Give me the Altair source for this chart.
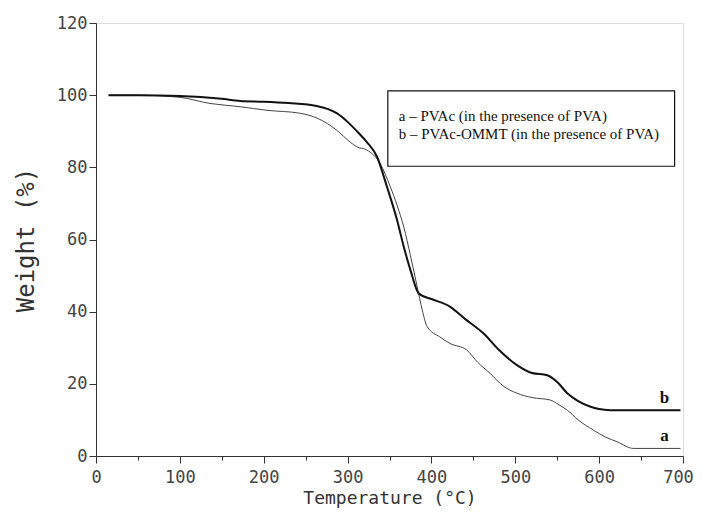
import altair as alt
import pandas as pd

# Curve a: PVAc (thin)
temp_a = [15, 50, 100, 136, 172, 204, 243, 265, 287, 303, 311, 323, 339, 351, 359, 367, 375, 383,
          389, 395, 410, 422, 442, 455, 470, 485, 502, 520, 542, 552, 562, 575, 593, 608, 621, 641, 697]
weight_a = [100, 100, 99.4, 97.7, 96.8, 95.8, 95, 93.5, 90.3, 87, 85.7, 84.8, 81, 74.6, 69.5, 63.5, 55.5, 46.9,
            40.5, 35.8, 33, 31.2, 29.4, 26, 22.9, 19.5, 17.4, 16.2, 15.5, 14.2, 12.7, 10, 7.2, 5.2, 4, 2.1, 2.1]

# Curve b: PVAc-OMMT (thick)
temp_b = [15, 50, 100, 150, 172, 200, 230, 263, 287, 300, 312, 323, 335, 347, 359, 367, 375, 385,
          400, 422, 440, 462, 480, 502, 520, 538, 550, 562, 575, 589, 600, 613, 650, 697]
weight_b = [100, 100, 99.8, 99, 98.4, 98.2, 97.8, 97, 95, 92.6, 89.8, 87, 83, 74.6, 65.4, 58, 51.5, 45,
            43.5, 41.4, 38, 34, 29.5, 25.2, 23, 22.4, 20.5, 17.4, 15.2, 13.7, 13, 12.7, 12.7, 12.7]

legend_lines = ["a \u2013 PVAc (in the presence of PVA)",
                "b \u2013 PVAc-OMMT (in the presence of PVA)"]
curve_labels = ["a", "b"]
curve_label_t = [678, 678]
curve_label_w = [5.5, 16.2]

df_a = pd.DataFrame({"T": temp_a, "W": weight_a, "s": "a"})
df_b = pd.DataFrame({"T": temp_b, "W": weight_b, "s": "b"})

mono = "DejaVu Sans Mono"
xscale = alt.Scale(domain=[0, 700], nice=False, zero=False)
yscale = alt.Scale(domain=[0, 120], nice=False)

xaxis = alt.Axis(title="Temperature (\u00b0C)", values=list(range(0, 701, 50)),
                 labelExpr="datum.value % 100 === 0 ? datum.label : ''",
                 tickSize={"condition": {"test": "datum.value % 100 === 0", "value": 7}, "value": 4},
                 labelOffset={"condition": {"test": "datum.value === 700", "value": -5}, "value": 0},
                 grid=False, labelFont=mono, labelFontSize=17, labelColor="#444",
                 titleFont=mono, titleFontSize=18, titleFontWeight="normal", titleColor="#333",
                 titlePadding=4, labelPadding=6, domainColor="#333", tickColor="#333",
                 labelFlush=False)
yaxis = alt.Axis(title="Weight (%)", values=list(range(0, 121, 10)),
                 labelExpr="datum.value % 20 === 0 ? datum.label : ''",
                 tickSize={"condition": {"test": "datum.value % 20 === 0", "value": 7}, "value": 4},
                 grid=False, labelFont=mono, labelFontSize=17, labelColor="#444",
                 titleFont=mono, titleFontSize=24, titleFontWeight="normal", titleColor="#333",
                 titlePadding=18, labelPadding=2, domainColor="#333", tickColor="#333",
                 labelFlush=False)

line_a = alt.Chart(df_a).mark_line(color="#444", strokeWidth=1, interpolate="monotone").encode(
    x=alt.X("T:Q", scale=xscale, axis=xaxis),
    y=alt.Y("W:Q", scale=yscale, axis=yaxis),
)
line_b = alt.Chart(df_b).mark_line(color="#111", strokeWidth=2, interpolate="monotone").encode(
    x=alt.X("T:Q", scale=xscale),
    y=alt.Y("W:Q", scale=yscale),
)

lab_df = pd.DataFrame({"t": curve_label_t, "w": curve_label_w, "l": curve_labels})
labels = alt.Chart(lab_df).mark_text(font="Liberation Serif", fontSize=17, fontWeight="bold",
                                     align="center", baseline="middle", color="#111").encode(
    x=alt.X("t:Q", scale=xscale), y=alt.Y("w:Q", scale=yscale), text="l:N")

box_df = pd.DataFrame({"x1": [348], "x2": [690], "y1": [80.3], "y2": [101.2]})
box = alt.Chart(box_df).mark_rect(fill="white", stroke="#111", strokeWidth=1.2).encode(
    x=alt.X("x1:Q", scale=xscale), x2="x2:Q",
    y=alt.Y("y1:Q", scale=yscale), y2="y2:Q")

leg_df = pd.DataFrame({"x": [361, 361], "y": [94.3, 89.2], "t": legend_lines})
leg_text = alt.Chart(leg_df).mark_text(font="Liberation Serif", fontSize=15, align="left",
                                       baseline="middle", color="#111").encode(
    x=alt.X("x:Q", scale=xscale), y=alt.Y("y:Q", scale=yscale), text="t:N")

chart = alt.layer(line_a, line_b, labels, box, leg_text).properties(
    width=587, height=433,
    autosize=alt.AutoSizeParams(type="none"),
    padding={"left": 88, "top": 15, "right": 11, "bottom": 54},
).configure_view(stroke="#333", strokeWidth=1).configure(background="white")

chart.save("out.html", embed_options={"renderer": "svg", "actions": False})
